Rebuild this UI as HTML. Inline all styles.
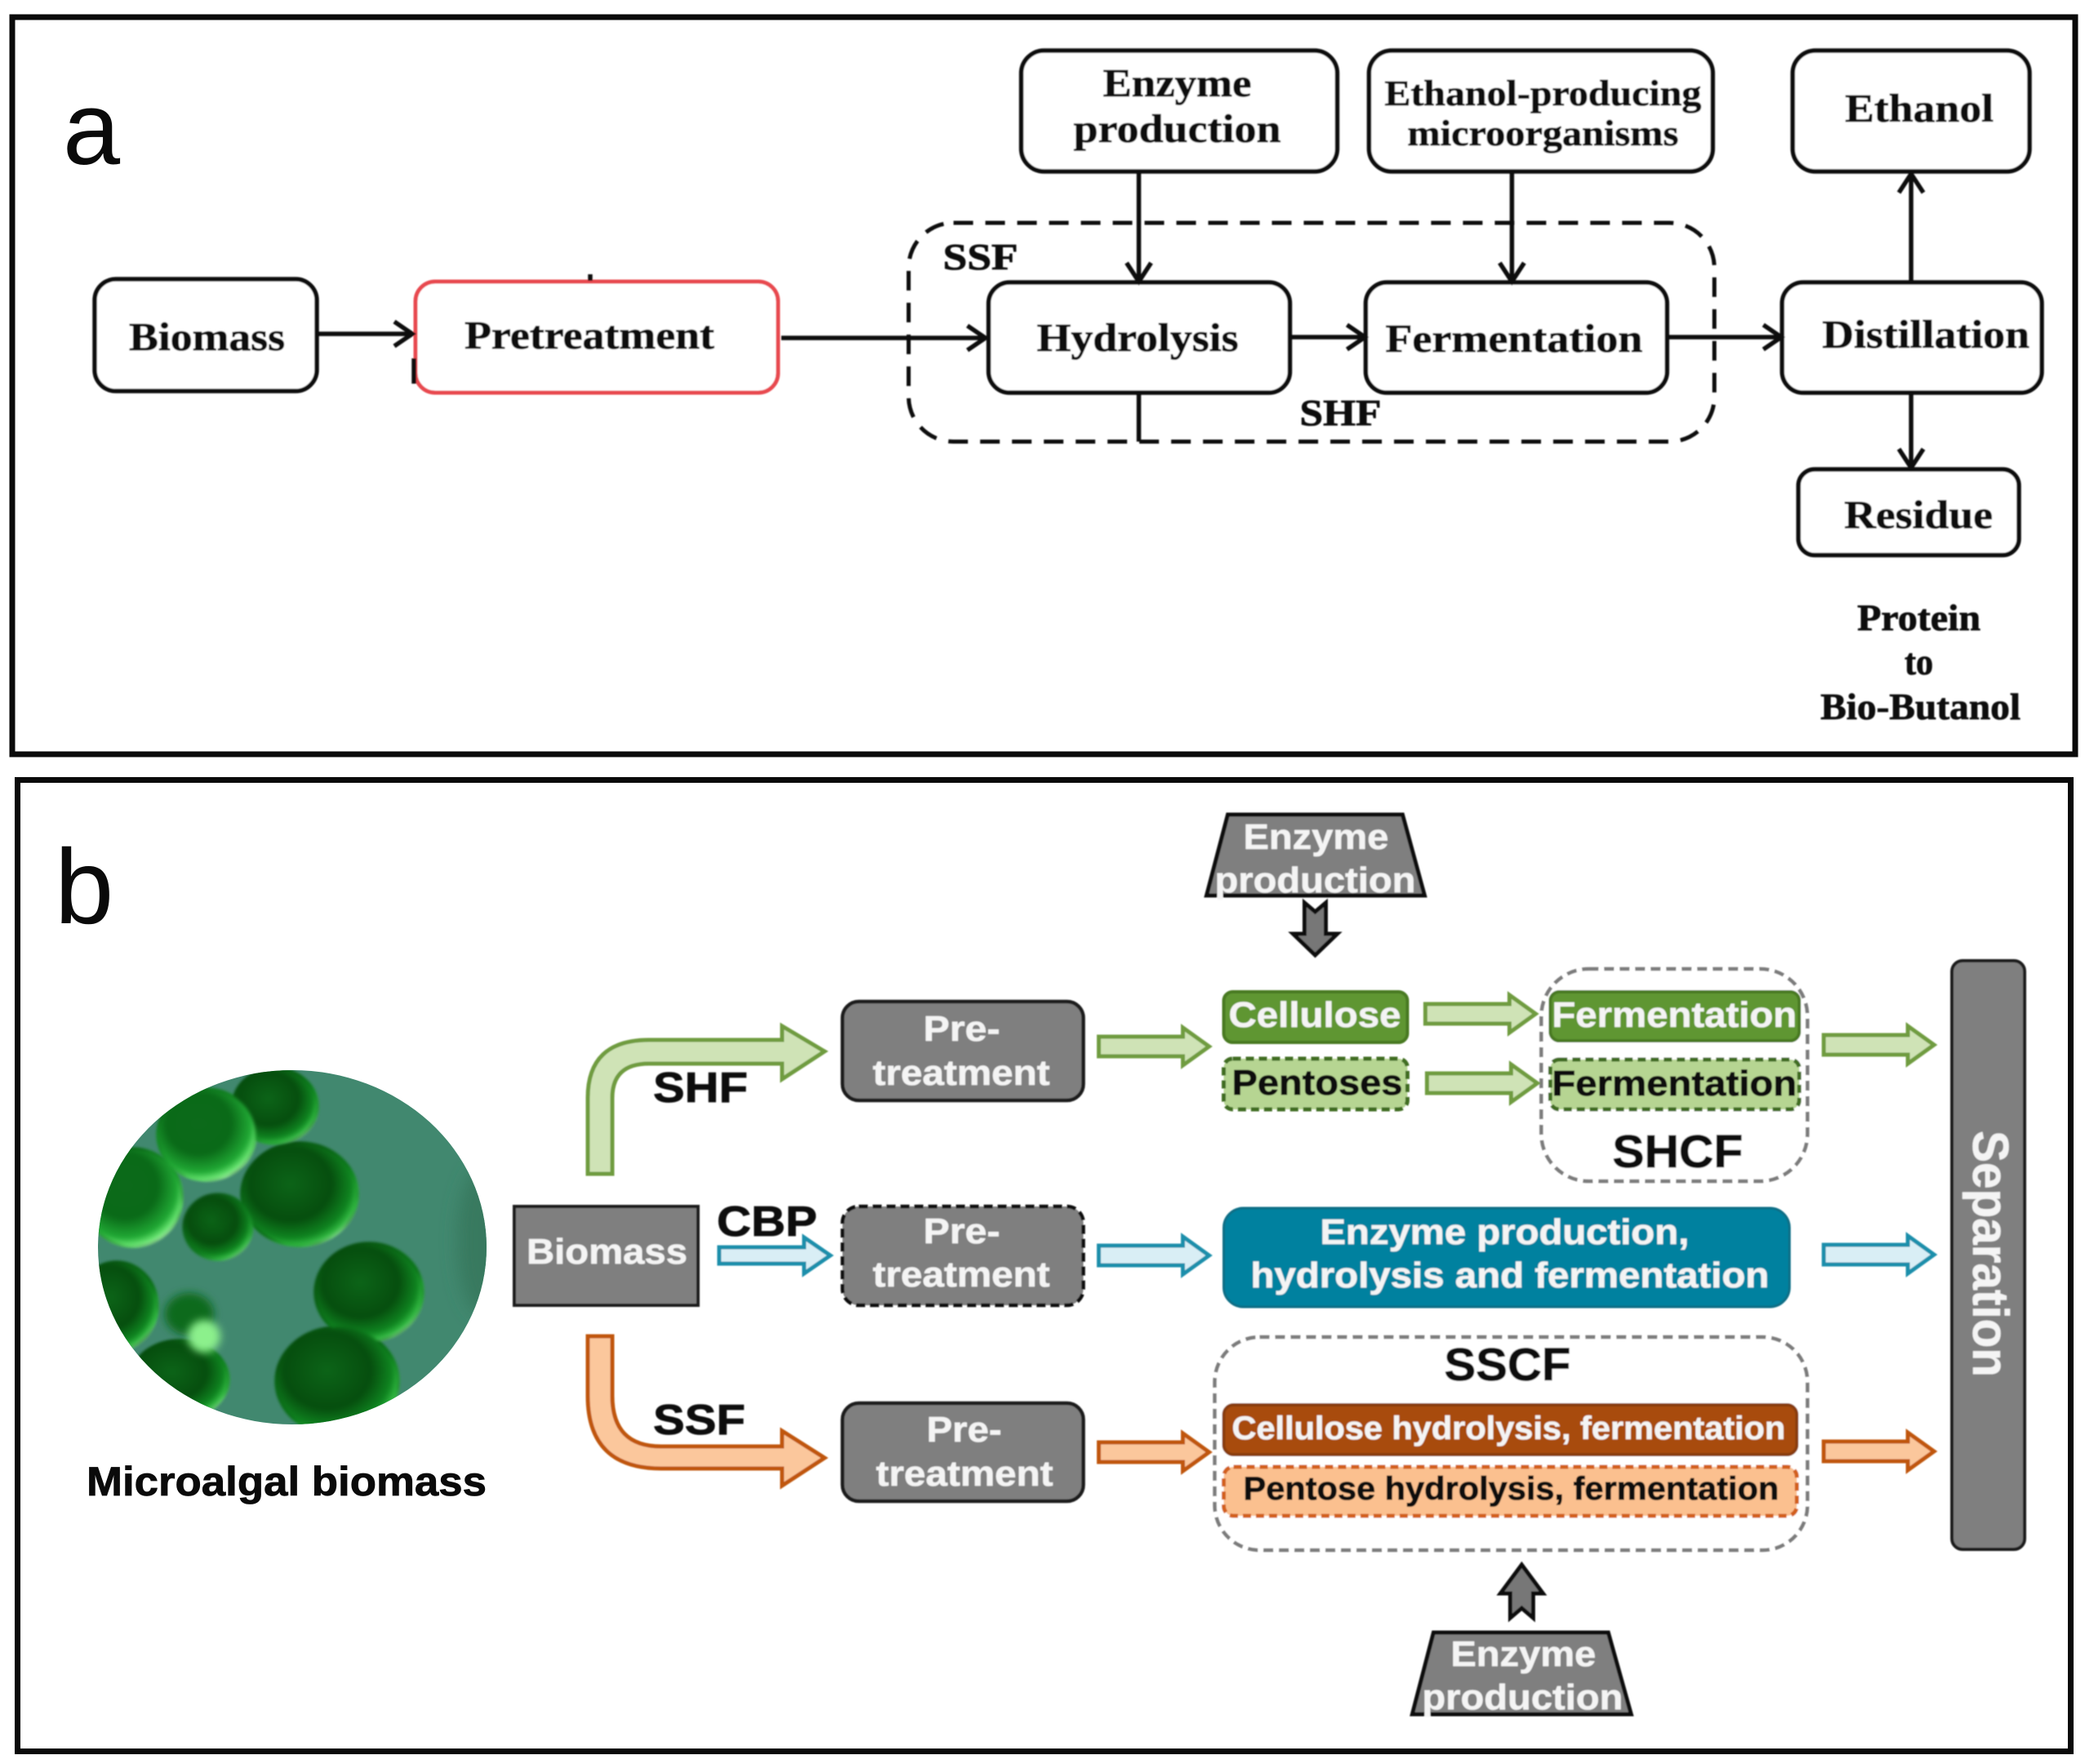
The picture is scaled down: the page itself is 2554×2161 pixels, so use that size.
<!DOCTYPE html>
<html>
<head>
<meta charset="utf-8">
<style>
html,body{margin:0;padding:0;background:#fff;width:2554px;height:2161px;overflow:hidden}
svg{display:block}
.s{font-family:"Liberation Serif",serif;font-weight:bold;fill:#111;stroke:#111;stroke-width:.8}
.a{font-family:"Liberation Sans",sans-serif;font-weight:bold}
.w{fill:#f4f4f4;stroke:#f4f4f4;stroke-width:.5}
.k{fill:#0a0a0a;stroke:#0a0a0a;stroke-width:.8}
.bx{fill:#fff;stroke:#111;stroke-width:5.5}
.ln{fill:none;stroke:#111;stroke-width:5.5}
.hd{fill:none;stroke:#111;stroke-width:5.5}
</style>
</head>
<body>
<svg width="2554" height="2161" viewBox="0 0 2554 2161" xmlns="http://www.w3.org/2000/svg">
<defs>
<filter id="soft" x="-5%" y="-5%" width="110%" height="110%"><feGaussianBlur stdDeviation="0.8"/></filter>
<filter id="mott" x="0" y="0" width="100%" height="100%" color-interpolation-filters="sRGB">
<feGaussianBlur in="SourceGraphic" stdDeviation="2" result="base"/>
<feTurbulence type="fractalNoise" baseFrequency="0.035" numOctaves="2" seed="7"/>
<feColorMatrix type="matrix" values="0 0 0 0 0.02  0 0 0 0 0.22  0 0 0 0 0.03  1.8 0 0 0 -0.55"/>
<feGaussianBlur stdDeviation="1.5" result="dark"/>
<feComposite in="dark" in2="base" operator="atop"/>
<feComposite in="base" operator="over" result="unused"/>
<feMerge><feMergeNode in="base"/><feMergeNode in="unused"/></feMerge>
</filter>
<filter id="b5" x="-50%" y="-50%" width="200%" height="200%"><feGaussianBlur stdDeviation="5"/></filter>
<filter id="b9" x="-60%" y="-60%" width="220%" height="220%"><feGaussianBlur stdDeviation="10"/></filter>
<clipPath id="cc"><ellipse cx="358" cy="1528" rx="238" ry="217"/></clipPath>
<radialGradient id="cell" cx="42%" cy="40%" r="64%">
<stop offset="0" stop-color="#0c6418"/><stop offset=".55" stop-color="#064e0e"/><stop offset=".82" stop-color="#0f8420"/><stop offset=".94" stop-color="#34bc44"/><stop offset="1" stop-color="#bfe9c0"/>
</radialGradient>
<radialGradient id="cellb" cx="42%" cy="38%" r="66%">
<stop offset="0" stop-color="#0c6a1a"/><stop offset=".5" stop-color="#0a6a18"/><stop offset=".8" stop-color="#20a834"/><stop offset=".93" stop-color="#6ce874"/><stop offset="1" stop-color="#cfeed0"/>
</radialGradient>
<path id="ar" d="M0,-12H103V-23L135,0L103,23V12H0Z"/>
</defs>

<rect width="2554" height="2161" fill="#fff"/>

<!-- Panel a -->
<rect x="15" y="21" width="2527" height="903" fill="none" stroke="#0a0a0a" stroke-width="7"/>
<text x="77" y="201" font-family="Liberation Sans, sans-serif" font-size="126" fill="#0a0a0a">a</text>

<g filter="url(#soft)">
<rect class="bx" x="116" y="342" width="272" height="137" rx="26"/>
<rect x="509" y="345" width="444" height="136" rx="24" fill="#fff" stroke="#e8494f" stroke-width="5"/>
<rect class="bx" x="1211" y="346" width="369" height="135" rx="26"/>
<rect class="bx" x="1673" y="346" width="369" height="135" rx="26"/>
<rect class="bx" x="2183" y="346" width="318" height="135" rx="26"/>
<rect class="bx" x="1251" y="62" width="387" height="148" rx="28"/>
<rect class="bx" x="1677" y="62" width="421" height="148" rx="28"/>
<rect class="bx" x="2196" y="62" width="290" height="148" rx="28"/>
<rect class="bx" x="2203" y="575" width="270" height="105" rx="20"/>
<rect x="1113" y="273" width="987" height="268" rx="55" fill="none" stroke="#111" stroke-width="5" stroke-dasharray="24 15"/>

<path class="ln" d="M388 409H503M957 414H1205M1580 413H1670M2042 413H2180M1395 210V343M1852 210V343M2341 346V215M2341 481V571M1395 481V541M723 336V344M507 439V470"/>
<path class="hd" d="M483 394L505 409L483 424M1185 399L1207 414L1185 429M1650 398L1672 413L1650 428M2160 398L2182 413L2160 428M1380 322L1395 345L1410 322M1837 322L1852 345L1867 322M2326 236L2341 213L2356 236M2326 550L2341 573L2356 550"/>

<text class="s" font-size="49" x="158" y="429" textLength="191" lengthAdjust="spacingAndGlyphs">Biomass</text>
<text class="s" font-size="49" x="569" y="427" textLength="306" lengthAdjust="spacingAndGlyphs">Pretreatment</text>
<text class="s" font-size="49" x="1270" y="430" textLength="247" lengthAdjust="spacingAndGlyphs">Hydrolysis</text>
<text class="s" font-size="49" x="1697" y="431" textLength="315" lengthAdjust="spacingAndGlyphs">Fermentation</text>
<text class="s" font-size="49" x="2232" y="426" textLength="254" lengthAdjust="spacingAndGlyphs">Distillation</text>
<text class="s" font-size="49" x="1351" y="118" textLength="182" lengthAdjust="spacingAndGlyphs">Enzyme</text>
<text class="s" font-size="49" x="1315" y="174" textLength="254" lengthAdjust="spacingAndGlyphs">production</text>
<text class="s" font-size="44" x="1696" y="129" textLength="388" lengthAdjust="spacingAndGlyphs">Ethanol-producing</text>
<text class="s" font-size="44" x="1724" y="178" textLength="332" lengthAdjust="spacingAndGlyphs">microorganisms</text>
<text class="s" font-size="49" x="2260" y="149" textLength="182" lengthAdjust="spacingAndGlyphs">Ethanol</text>
<text class="s" font-size="49" x="2259" y="647" textLength="182" lengthAdjust="spacingAndGlyphs">Residue</text>
<text class="s" font-size="45" x="2275" y="772" textLength="151" lengthAdjust="spacingAndGlyphs">Protein</text>
<text class="s" font-size="45" x="2333" y="826" textLength="35" lengthAdjust="spacingAndGlyphs">to</text>
<text class="s" font-size="45" x="2230" y="881" textLength="245" lengthAdjust="spacingAndGlyphs">Bio-Butanol</text>
<text class="s" font-size="46" x="1155" y="330" textLength="92" lengthAdjust="spacingAndGlyphs">SSF</text>
<text class="s" font-size="46" x="1592" y="521" textLength="100" lengthAdjust="spacingAndGlyphs">SHF</text>
</g>

<!-- Panel b -->
<rect x="21.5" y="955.5" width="2515" height="1190" fill="none" stroke="#0a0a0a" stroke-width="7"/>
<text x="67" y="1131" font-family="Liberation Sans, sans-serif" font-size="130" fill="#0a0a0a">b</text>

<!-- Microalgae -->
<g clip-path="url(#cc)">
<rect x="110" y="1300" width="500" height="460" fill="#41886f"/>
<ellipse cx="590" cy="1520" rx="30" ry="90" fill="#37795f" filter="url(#b9)"/>
<g filter="url(#mott)">
<rect x="110" y="1300" width="500" height="460" fill="#fff" fill-opacity="0"/>
<ellipse cx="337" cy="1355" rx="52" ry="46" fill="url(#cell)"/>
<ellipse cx="253" cy="1390" rx="60" ry="56" fill="url(#cellb)"/>
<ellipse cx="367" cy="1463" rx="71" ry="63" fill="url(#cell)"/>
<ellipse cx="163" cy="1467" rx="60" ry="60" fill="url(#cellb)"/>
<ellipse cx="267" cy="1503" rx="42" ry="40" fill="url(#cell)" opacity=".85"/>
<ellipse cx="452" cy="1583" rx="66" ry="60" fill="url(#cell)"/>
<ellipse cx="143" cy="1600" rx="50" ry="54" fill="url(#cell)"/>
<ellipse cx="220" cy="1690" rx="60" ry="48" fill="url(#cell)"/>
<ellipse cx="413" cy="1692" rx="75" ry="66" fill="url(#cell)"/>
</g>
<ellipse cx="232" cy="1610" rx="30" ry="26" fill="#0d6a1c" filter="url(#b5)"/>
<ellipse cx="250" cy="1637" rx="20" ry="20" fill="#8cf08c" filter="url(#b5)"/>
</g>
<text class="a k" font-size="50" x="106" y="1832" textLength="490" lengthAdjust="spacingAndGlyphs">Microalgal biomass</text>

<g filter="url(#soft)">
<rect x="630" y="1478" width="225" height="121" fill="#7f7f7f" stroke="#1c1c1c" stroke-width="4"/>
<text class="a w" font-size="44" x="645" y="1548" textLength="197" lengthAdjust="spacingAndGlyphs">Biomass</text>
<text class="a k" font-size="52" x="800" y="1350" textLength="116" lengthAdjust="spacingAndGlyphs">SHF</text>
<text class="a k" font-size="52" x="878" y="1514" textLength="123" lengthAdjust="spacingAndGlyphs">CBP</text>
<text class="a k" font-size="52" x="800" y="1757" textLength="113" lengthAdjust="spacingAndGlyphs">SSF</text>

<path d="M720 1438V1345Q720 1274 795 1274H958V1257L1010 1288L958 1322V1303H795Q750 1303 750 1345V1438Z" fill="#cfe3b6" stroke="#6f9c3f" stroke-width="5"/>
<path d="M720 1637H750V1710Q750 1772 810 1772H958V1753L1010 1786L958 1820V1799H810Q720 1799 720 1710Z" fill="#fbc79c" stroke="#c0560f" stroke-width="5"/>
<path d="M881 1528H985V1516L1017 1538L985 1560V1548H881Z" fill="#d9eef5" stroke="#1b8fab" stroke-width="5"/>

<rect x="1032" y="1227" width="295" height="121" rx="20" fill="#7f7f7f" stroke="#1c1c1c" stroke-width="4.5"/>
<rect x="1032" y="1478" width="295" height="121" rx="20" fill="#7f7f7f" stroke="#111" stroke-width="4.5" stroke-dasharray="11 6"/>
<rect x="1032" y="1719" width="295" height="120" rx="20" fill="#7f7f7f" stroke="#1c1c1c" stroke-width="4.5"/>
<text class="a w" font-size="44" x="1131" y="1275" textLength="94" lengthAdjust="spacingAndGlyphs">Pre-</text>
<text class="a w" font-size="44" x="1069" y="1329" textLength="217" lengthAdjust="spacingAndGlyphs">treatment</text>
<text class="a w" font-size="44" x="1131" y="1523" textLength="94" lengthAdjust="spacingAndGlyphs">Pre-</text>
<text class="a w" font-size="44" x="1069" y="1576" textLength="217" lengthAdjust="spacingAndGlyphs">treatment</text>
<text class="a w" font-size="44" x="1135" y="1766" textLength="92" lengthAdjust="spacingAndGlyphs">Pre-</text>
<text class="a w" font-size="44" x="1073" y="1820" textLength="217" lengthAdjust="spacingAndGlyphs">treatment</text>

<!-- Top trapezoid -->
<path d="M1504 998H1718L1745 1097H1478Z" fill="#7f7f7f" stroke="#111" stroke-width="5"/>
<text class="a w" font-size="44" x="1523" y="1040" textLength="178" lengthAdjust="spacingAndGlyphs">Enzyme</text>
<text class="a w" font-size="44" x="1488" y="1093" textLength="246" lengthAdjust="spacingAndGlyphs">production</text>
<path d="M1598 1106L1611 1117L1624 1106V1144H1638L1611 1170L1584 1144H1598Z" fill="#777" stroke="#111" stroke-width="5"/>

<!-- Bottom trapezoid -->
<path d="M1756 2000H1970L1998 2100H1730Z" fill="#7f7f7f" stroke="#111" stroke-width="5"/>
<text class="a w" font-size="44" x="1777" y="2041" textLength="178" lengthAdjust="spacingAndGlyphs">Enzyme</text>
<text class="a w" font-size="44" x="1742" y="2094" textLength="246" lengthAdjust="spacingAndGlyphs">production</text>
<path d="M1864 1917L1890 1952H1878V1982L1864 1970L1850 1982V1952H1838Z" fill="#777" stroke="#111" stroke-width="5"/>

<!-- Dashed groups -->
<rect x="1888" y="1187" width="326" height="260" rx="58" fill="#fff" stroke="#7c7c7c" stroke-width="4.5" stroke-dasharray="12 7"/>
<rect x="1488" y="1638" width="726" height="261" rx="55" fill="#fff" stroke="#7c7c7c" stroke-width="4.5" stroke-dasharray="12 7"/>

<!-- Green row -->
<rect x="1499" y="1215" width="225" height="62" rx="11" fill="#5f9632" stroke="#487a22" stroke-width="4"/>
<text class="a w" font-size="44" x="1505" y="1258" textLength="211" lengthAdjust="spacingAndGlyphs">Cellulose</text>
<rect x="1499" y="1297" width="225" height="62" rx="11" fill="#b6d592" stroke="#3f6d20" stroke-width="5" stroke-dasharray="10 6"/>
<text class="a k" font-size="44" x="1509" y="1341" textLength="209" lengthAdjust="spacingAndGlyphs">Pentoses</text>
<rect x="1899" y="1215" width="305" height="60" rx="11" fill="#5f9632" stroke="#487a22" stroke-width="4"/>
<text class="a w" font-size="44" x="1901" y="1258" textLength="300" lengthAdjust="spacingAndGlyphs">Fermentation</text>
<rect x="1899" y="1298" width="305" height="61" rx="11" fill="#b6d592" stroke="#3f6d20" stroke-width="5" stroke-dasharray="10 6"/>
<text class="a k" font-size="44" x="1901" y="1342" textLength="300" lengthAdjust="spacingAndGlyphs">Fermentation</text>
<text class="a k" font-size="57" x="1975" y="1430" textLength="160" lengthAdjust="spacingAndGlyphs">SHCF</text>

<!-- Teal -->
<rect x="1499" y="1480" width="693" height="121" rx="24" fill="#00819f" stroke="#0f6e86" stroke-width="3"/>
<text class="a w" font-size="44" x="1617" y="1524" textLength="452" lengthAdjust="spacingAndGlyphs">Enzyme production,</text>
<text class="a w" font-size="44" x="1532" y="1577" textLength="635" lengthAdjust="spacingAndGlyphs">hydrolysis and fermentation</text>

<!-- Orange row -->
<text class="a k" font-size="57" x="1769" y="1691" textLength="155" lengthAdjust="spacingAndGlyphs">SSCF</text>
<rect x="1499" y="1721" width="702" height="61" rx="12" fill="#a84b0c" stroke="#8a3d08" stroke-width="4"/>
<text class="a w" font-size="40" x="1509" y="1763" textLength="678" lengthAdjust="spacingAndGlyphs">Cellulose hydrolysis, fermentation</text>
<rect x="1499" y="1797" width="702" height="60" rx="12" fill="#fbc08f" stroke="#d2601a" stroke-width="5" stroke-dasharray="10 6"/>
<text class="a k" font-size="40" x="1523" y="1837" textLength="656" lengthAdjust="spacingAndGlyphs">Pentose hydrolysis, fermentation</text>

<!-- Block arrows -->
<g fill="#cfe3b6" stroke="#6f9c3f" stroke-width="5">
<use href="#ar" transform="translate(1346 1282)"/>
<use href="#ar" transform="translate(1746 1242)"/>
<use href="#ar" transform="translate(1748 1327)"/>
<use href="#ar" transform="translate(2234 1280)"/>
</g>
<g fill="#d9eef5" stroke="#1b8fab" stroke-width="5">
<use href="#ar" transform="translate(1346 1538)"/>
<use href="#ar" transform="translate(2234 1537)"/>
</g>
<g fill="#fbc79c" stroke="#c0560f" stroke-width="5">
<use href="#ar" transform="translate(1346 1779)"/>
<use href="#ar" transform="translate(2234 1778)"/>
</g>

<!-- Separation -->
<rect x="2391" y="1177" width="89" height="721" rx="13" fill="#7f7f7f" stroke="#1c1c1c" stroke-width="4"/>
<text class="a w" font-size="62" transform="translate(2417 1385) rotate(90)" textLength="302" lengthAdjust="spacingAndGlyphs" x="0" y="0">Separation</text>
</g>
</svg>
</body>
</html>
